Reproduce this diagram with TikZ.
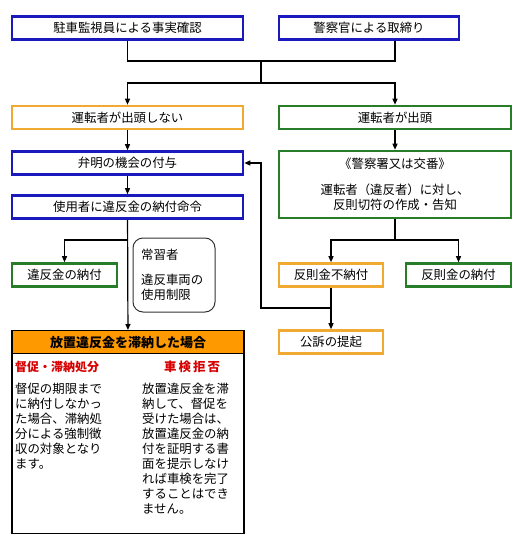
\documentclass[tikz,border=0pt]{standalone}
\usepackage{fontspec}
\setmainfont{Noto Sans CJK JP}
\usetikzlibrary{arrows.meta}
\definecolor{boxblue}{RGB}{25,25,190}
\definecolor{boxgreen}{RGB}{40,125,40}
\definecolor{boxorange}{RGB}{240,170,50}
\definecolor{headorange}{RGB}{255,153,0}
\definecolor{subred}{RGB}{215,0,0}
\begin{document}
\begin{tikzpicture}[x=1pt,y=-1pt,font=\fontsize{12.4}{15}\selectfont,>={Triangle[length=6pt,width=5pt]}]
        \tikzset{flow/.style={draw,line width=2.6pt,inner sep=0pt,minimum height=23pt},
                 link/.style={line width=1.2pt}}
        \useasboundingbox (0,0) rectangle (525,551);
        % top row
        \node[flow,draw=boxblue,minimum width=231pt](watch) at (127.5,28) {駐車監視員による事実確認};
        \node[flow,draw=boxblue,minimum width=180pt](police) at (369,28) {警察官による取締り};
        % left column
        \node[flow,draw=boxorange,minimum width=231pt](noshow) at (127.5,117.5) {運転者が出頭しない};
        \node[flow,draw=boxblue,minimum width=231pt](bemei) at (127.5,163) {弁明の機会の付与};
        \node[flow,draw=boxblue,minimum width=231pt](order) at (127.5,207) {使用者に違反金の納付命令};
        \node[flow,draw=boxgreen,minimum width=105pt](payfine) at (64.5,275) {違反金の納付};
        \node[draw=black!80,line width=1pt,rounded corners=10pt,minimum width=82pt,minimum height=74pt](habit) at (174,275) {};
        \node[anchor=north west,align=left,inner sep=0pt] at (141,249) {常習者\\[10pt]違反車両の\\使用制限};
        % right column
        \node[flow,draw=boxgreen,minimum width=232pt](show) at (395,117.5) {運転者が出頭};
        \node[flow,draw=boxgreen,minimum width=232pt,minimum height=67pt,align=center](ticket) at (395,184.5)
            {《警察署又は交番》\\[11pt]運転者（違反者）に対し、\\反則切符の作成・告知};
        \node[flow,draw=boxorange,minimum width=104pt](nopay) at (331,275) {反則金不納付};
        \node[flow,draw=boxgreen,minimum width=105pt](paypen) at (458.5,275) {反則金の納付};
        \node[flow,draw=boxorange,minimum width=104pt](suit) at (331,342) {公訴の提起};
        % unpaid case
        \node[draw,line width=1.4pt,minimum width=232pt,minimum height=203pt,anchor=north](unpaid) at (128,330) {};
        \node[fill=headorange,draw,line width=1.4pt,minimum width=232pt,minimum height=23pt,anchor=north,
              font=\fontsize{13}{15}\selectfont\bfseries](head) at (128,330) {放置違反金を滞納した場合};
        \node[text=subred,font=\fontsize{12}{15}\selectfont\bfseries](dun) at (57,367) {督促・滞納処分};
        \node[text=subred,font=\fontsize{12.4}{15}\selectfont\bfseries](inspect) at (192,367) {車\,検\,拒\,否};
        \node[anchor=north west,align=left,inner sep=0pt] at (15,383)
            {督促の期限まで\\に納付しなかっ\\た場合、滞納処\\分による強制徴\\収の対象となり\\ます。};
        \node[anchor=north west,align=left,inner sep=0pt] at (142,383)
            {放置違反金を滞\\納して、督促を\\受けた場合は、\\放置違反金の納\\付を証明する書\\面を提示しなけ\\れば車検を完了\\することはでき\\ません。};
        % connectors
        \coordinate (top) at (261,61);
        \coordinate (split) at (261,83);
        \coordinate (lsplit) at (127.5,240);
        \coordinate (rsplit) at (395,240);
        \coordinate (back) at (261,308);
        \draw[link] (watch.south) |- (top) -| (police.south -| show.north);
        \draw[link] (top) -- (split);
        \draw[link,->] (split) -| (noshow.north);
        \draw[link,->] (split) -| (show.north);
        \draw[link,->] (noshow) -- (bemei);
        \draw[link,->] (bemei) -- (order);
        \draw[link,->] (order) -- (head);
        \draw[link,->] (lsplit) -| (payfine.north);
        \draw[link,->] (show) -- (ticket);
        \draw[link] (ticket) -- (rsplit);
        \draw[link,->] (rsplit) -| (nopay.north);
        \draw[link,->] (rsplit) -| (paypen.north);
        \draw[link,->] (nopay) -- (suit);
        \draw[link,->] (nopay.south |- back) -- (back) |- (bemei.east);
\end{tikzpicture}
\end{document}
